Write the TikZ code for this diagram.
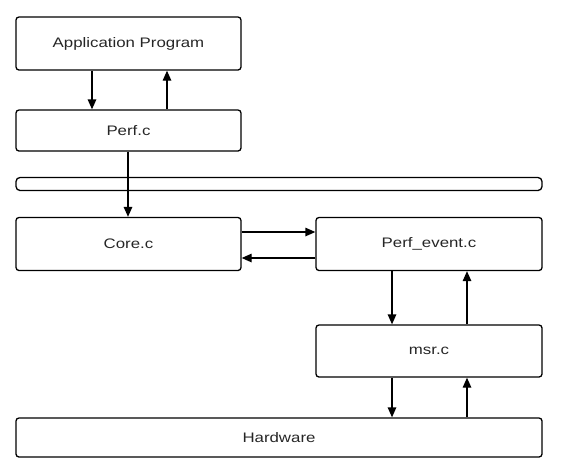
\documentclass[tikz,border=0pt]{standalone}
\usepackage{fontspec}
\setmainfont{Liberation Sans}
\usetikzlibrary{arrows.meta}
\begin{document}
\begin{tikzpicture}[x=1pt,y=-1pt,
  box/.style={draw,line width=1.3pt,rounded corners=3pt,inner sep=0pt},
  lbl/.style={font=\fontsize{13.8}{15}\selectfont,xscale=1.22,text=black!85},
  arr/.style={line width=1.3pt,-{Triangle[length=10pt,width=8.5pt]}}]
\useasboundingbox (0,0) rectangle (561,464);
\node[box,minimum width=225pt,minimum height=53pt] (app) at (128.5,43.5) {};
\node[lbl] at (app.center) {Application Program};
\node[box,minimum width=225pt,minimum height=41pt] (perf) at (128.5,130.5) {};
\node[lbl] at (perf.center) {Perf.c};
\node[box,minimum width=526pt,minimum height=13pt,rounded corners=4pt] (bar) at (279,184) {};
\node[box,minimum width=225pt,minimum height=53pt] (core) at (128.5,244) {};
\node[lbl] at (core.center) {Core.c};
\node[box,minimum width=226pt,minimum height=53pt] (pev) at (429,244) {};
\node[lbl] at (pev.center) {Perf\_event.c};
\node[box,minimum width=226pt,minimum height=52pt] (msr) at (429,351) {};
\node[lbl] at (msr.center) {msr.c};
\node[box,minimum width=526pt,minimum height=39pt] (hw) at (279,437.5) {};
\node[lbl] at (hw.center) {Hardware};
% arrows
\draw[arr] (app.south -| 92,0) -- (perf.north -| 92,0);
\draw[arr] (perf.north -| 167,0) -- (app.south -| 167,0);
\draw[arr] (perf.south -| 128,0) -- (core.north -| 128,0);
\draw[arr] (core.east |- 0,232) -- (pev.west |- 0,232);
\draw[arr] (pev.west |- 0,258) -- (core.east |- 0,258);
\draw[arr] (pev.south -| 392,0) -- (msr.north -| 392,0);
\draw[arr] (msr.north -| 467,0) -- (pev.south -| 467,0);
\draw[arr] (msr.south -| 392,0) -- (hw.north -| 392,0);
\draw[arr] (hw.north -| 467,0) -- (msr.south -| 467,0);
\end{tikzpicture}
\end{document}
